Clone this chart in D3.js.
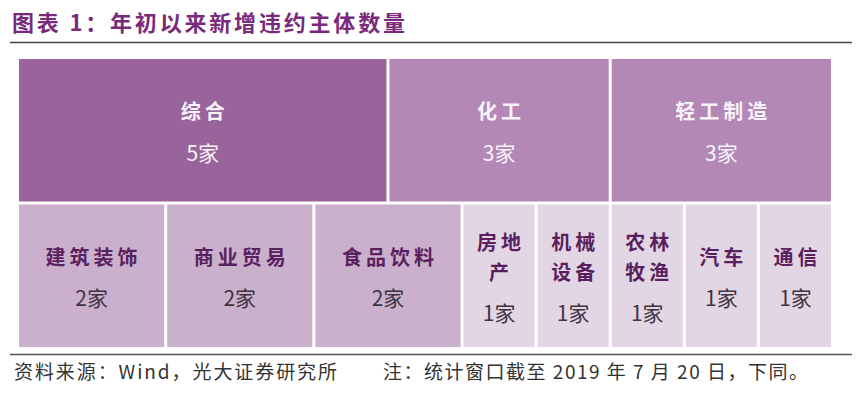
<!DOCTYPE html>
<html>
<head>
<meta charset="utf-8">
<script src="https://cdn.jsdelivr.net/npm/d3@7/dist/d3.min.js"></script>
<style>
    body { margin: 0; background: #fff; }
    svg { display: block; font-family: "Noto Sans CJK SC", "Liberation Sans", sans-serif; }
</style>
</head>
<body>
<svg id="chart" width="862" height="394"></svg>
<script>
// Top row and bottom row of the treemap
var topIndustries = ["综合", "化工", "轻工制造"];
var topCounts = [5, 3, 3];
var bottomIndustries = ["建筑装饰", "商业贸易", "食品饮料", "房地产", "机械设备", "农林牧渔", "汽车", "通信"];
var bottomCounts = [2, 2, 2, 1, 1, 1, 1, 1];
var unitLabel = "家";

var titleText = "图表 1：年初以来新增违约主体数量";
var sourceText = "资料来源：Wind，光大证券研究所";
var noteText = "注：统计窗口截至 2019 年 7 月 20 日，下同。";

var svg = d3.select("#chart");

// Fill by count
var fillColor = d3.scaleOrdinal()
    .domain([5, 3, 2, 1])
    .range(["#99649c", "#b387b6", "#cab0cc", "#e2d6e4"]);

// Dark cells get white text
var isDark = function(count) {
    return count >= 3;
};

function buildRow(names, counts) {
    return {
        children: names.map(function(name, i) {
            return { name: name, value: counts[i] };
        })
    };
}

var root = d3.hierarchy({
        children: [buildRow(topIndustries, topCounts), buildRow(bottomIndustries, bottomCounts)]
    })
    .sum(function(d) { return d.value || 0; });

// Rows are stacked top to bottom, cells run left to right in each row
var tile = function(node, x0, y0, x1, y1) {
    if (node.depth === 0) {
        d3.treemapSlice(node, x0, y0, x1, y1);
    }
    else {
        d3.treemapDice(node, x0, y0, x1, y1);
    }
};

d3.treemap()
    .tile(tile)
    .size([812, 288])
    .paddingInner(3)(root);

var plot = svg.append("g").attr("transform", "translate(19,59)");

var cell = plot.selectAll("g.cell")
    .data(root.leaves())
    .join("g")
    .attr("class", "cell");

cell.append("rect")
    .attr("x", function(d) { return d.x0; })
    .attr("y", function(d) { return d.y0; })
    .attr("width", function(d) { return d.x1 - d.x0; })
    .attr("height", function(d) { return d.y1 - d.y0; })
    .attr("fill", function(d) { return fillColor(d.data.value); });

// Break the name into lines that fit the cell width
function splitName(name, width) {
    var perLine = Math.max(1, Math.floor((width - 10) / 24));
    var lines = [];
    for (var i = 0; i < name.length; i += perLine) {
        lines.push(name.slice(i, i + perLine));
    }
    return lines;
}

cell.each(function(d) {
    var g = d3.select(this);
    var w = d.x1 - d.x0;
    var cx = (d.x0 + d.x1) / 2;
    var cy = (d.y0 + d.y1) / 2;
    var lines = splitName(d.data.name, w);
    var lineGap = 30;
    var numberGap = 41;
    if (lines.length === 1) {
        numberGap = isDark(d.data.value) ? 42 : 40;
    }
    var blockHeight = (lines.length - 1) * lineGap + numberGap;
    var top = cy - blockHeight / 2 + 1;
    var dark = isDark(d.data.value);

    lines.forEach(function(line, i) {
        g.append("text")
            .attr("x", cx)
            .attr("y", top + i * lineGap)
            .attr("text-anchor", "middle")
            .attr("dominant-baseline", "central")
            .attr("font-size", 20)
            .attr("font-weight", "bold")
            .attr("letter-spacing", 4)
            .attr("dx", 2)
            .attr("fill", dark ? "#f8f3f8" : "#5a1f5e")
            .text(line);
    });

    g.append("text")
        .attr("x", cx)
        .attr("y", top + (lines.length - 1) * lineGap + numberGap)
        .attr("text-anchor", "middle")
        .attr("dominant-baseline", "central")
        .attr("font-size", 21)
        .attr("fill", dark ? "#f8f3f8" : "#3e3342")
        .text(d.data.value + unitLabel);
});

// Title and rules
svg.append("text")
    .attr("x", 12)
    .attr("y", 31)
    .attr("font-size", 22)
    .attr("font-weight", "bold")
    .attr("fill", "#7a2a7c")
    .attr("textLength", 393)
    .attr("lengthAdjust", "spacing")
    .text(titleText);

svg.append("line")
    .attr("x1", 10).attr("x2", 852)
    .attr("y1", 42.5).attr("y2", 42.5)
    .attr("stroke", "#444")
    .attr("stroke-width", 1.5);

svg.append("line")
    .attr("x1", 10).attr("x2", 852)
    .attr("y1", 354.5).attr("y2", 354.5)
    .attr("stroke", "#555")
    .attr("stroke-width", 1.5);

// Footer
svg.append("text")
    .attr("x", 14)
    .attr("y", 379)
    .attr("font-size", 19)
    .attr("fill", "#333")
    .attr("textLength", 323)
    .attr("lengthAdjust", "spacing")
    .text(sourceText);

svg.append("text")
    .attr("x", 383)
    .attr("y", 379)
    .attr("font-size", 19)
    .attr("fill", "#333")
    .attr("textLength", 425)
    .attr("lengthAdjust", "spacing")
    .text(noteText);
</script>
</body>
</html>
